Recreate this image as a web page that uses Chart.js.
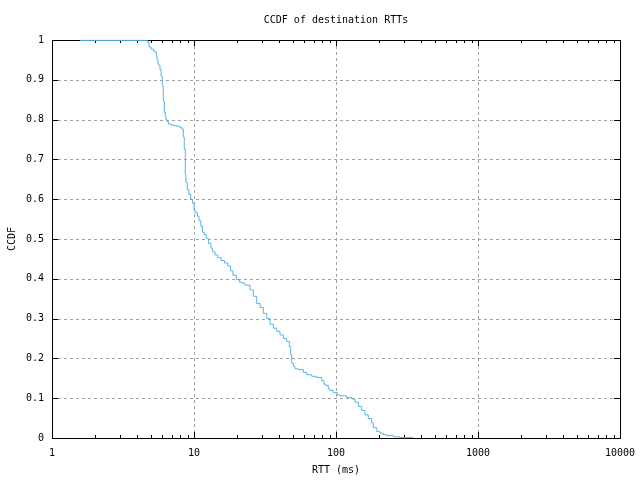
<!DOCTYPE html>
<html>
<head>
<meta charset="utf-8">
<script src="https://cdn.jsdelivr.net/npm/chart.js@4/dist/chart.umd.min.js"></script>
<style>
  html, body { margin: 0; padding: 0; background: #fff; }
  #wrap { width: 640px; height: 480px; }
</style>
</head>
<body>
<div id="wrap"><canvas id="ccdfChart" width="640" height="480"></canvas></div>
<script>
// ---- CCDF of destination RTTs ---- //
const rttMs = [1.575, 4.72, 4.82, 4.98, 5.17, 5.29, 5.43, 5.49, 5.58, 5.64, 5.76, 5.86, 5.98, 6.08,
  6.18, 6.28, 6.35, 6.45, 6.59, 6.85, 7.15, 7.55, 7.97, 8.23, 8.41, 8.54, 8.68, 8.78, 8.97, 9.22,
  9.48, 9.75, 10.0, 10.16, 10.57, 10.84, 11.17, 11.48, 11.80, 12.19, 12.67, 13.18, 13.52, 14.05,
  14.69, 15.49, 16.40, 17.30, 18.07, 18.79, 19.86, 20.98, 22.14, 22.86, 24.79, 26.17, 27.66, 29.17,
  30.78, 32.52, 34.30, 36.17, 38.22, 40.33, 42.55, 44.96, 46.90, 47.98, 48.76, 50.04, 51.44, 54.28,
  58.86, 62.21, 67.44, 73.11, 79.27, 82.25, 85.04, 88.27, 90.73, 95.71, 102.2, 106.7, 118.9, 129.0,
  136.1, 143.6, 151.7, 160.0, 168.8, 178.3, 183.1, 193.6, 204.2, 215.4, 227.5, 253.4, 282.4, 348.7];
const ccdf = [0.999, 0.999, 0.994, 0.983, 0.977, 0.973, 0.970, 0.960, 0.950, 0.940, 0.937, 0.926, 0.909, 0.884,
  0.846, 0.818, 0.808, 0.800, 0.796, 0.789, 0.787, 0.785, 0.783, 0.780, 0.776, 0.756, 0.725, 0.661, 0.642, 0.624,
  0.612, 0.600, 0.590, 0.573, 0.566, 0.557, 0.546, 0.532, 0.517, 0.511, 0.502, 0.489, 0.477, 0.468,
  0.460, 0.453, 0.446, 0.440, 0.432, 0.420, 0.409, 0.398, 0.391, 0.388, 0.384, 0.372, 0.356, 0.338,
  0.328, 0.313, 0.300, 0.286, 0.276, 0.268, 0.259, 0.250, 0.243, 0.230, 0.209, 0.188, 0.180, 0.174,
  0.172, 0.165, 0.159, 0.155, 0.152, 0.144, 0.135, 0.132, 0.123, 0.119, 0.114, 0.108, 0.106, 0.102,
  0.098, 0.090, 0.079, 0.069, 0.058, 0.049, 0.038, 0.026, 0.016, 0.012, 0.008, 0.006, 0.003, 0.001];
const xTicks = [1, 10, 100, 1000, 10000];
const yTicks = [0, 0.1, 0.2, 0.3, 0.4, 0.5, 0.6, 0.7, 0.8, 0.9, 1];

const FONT = "'DejaVu Sans Mono', 'Liberation Mono', monospace";

// --- gnuplot-like frame, dashed grid, inward ticks, titles ---
const framePlugin = {
  id: "frame",
  beforeDatasetsDraw(chart) {
    const { ctx, chartArea: a, scales: { x, y } } = chart;
    ctx.save();
    ctx.strokeStyle = "#a0a0a0";
    ctx.lineWidth = 1;
    ctx.setLineDash([3, 3]);
    xTicks.slice(1, -1).forEach(v => {
      const px = Math.round(x.getPixelForValue(v)) + 0.5;
      ctx.beginPath(); ctx.moveTo(px, a.top); ctx.lineTo(px, a.bottom); ctx.stroke();
    });
    yTicks.slice(1, -1).forEach(v => {
      const py = Math.round(y.getPixelForValue(v)) + 0.5;
      ctx.beginPath(); ctx.moveTo(a.left, py); ctx.lineTo(a.right, py); ctx.stroke();
    });
    ctx.setLineDash([]);

    ctx.strokeStyle = "#000";
    ctx.beginPath();
    // y ticks, left and right
    yTicks.forEach(v => {
      const py = Math.round(y.getPixelForValue(v)) + 0.5;
      ctx.moveTo(a.left, py); ctx.lineTo(a.left + 6, py);
      ctx.moveTo(a.right, py); ctx.lineTo(a.right - 6, py);
    });
    // x ticks, major and minor, bottom and top
    xTicks.forEach((d, i) => {
      const px = Math.round(x.getPixelForValue(d)) + 0.5;
      ctx.moveTo(px, a.bottom); ctx.lineTo(px, a.bottom - 6);
      ctx.moveTo(px, a.top); ctx.lineTo(px, a.top + 6);
      if (i === xTicks.length - 1) return;
      for (let k = 2; k <= 9; k++) {
        const mx = Math.round(x.getPixelForValue(d * k)) + 0.5;
        ctx.moveTo(mx, a.bottom); ctx.lineTo(mx, a.bottom - 3);
        ctx.moveTo(mx, a.top); ctx.lineTo(mx, a.top + 3);
      }
    });
    ctx.stroke();
    ctx.strokeRect(Math.round(a.left) + 0.5, Math.round(a.top) + 0.5,
      Math.round(a.right - a.left), Math.round(a.bottom - a.top));
    ctx.restore();
  },
  afterDatasetsDraw(chart) {
    const { ctx, chartArea: a } = chart;
    ctx.save();
    ctx.fillStyle = "#000";
    ctx.font = "10px " + FONT;
    ctx.textAlign = "center";
    ctx.textBaseline = "middle";
    ctx.fillText("CCDF of destination RTTs", (a.left + a.right) / 2, 20);
    ctx.fillText("RTT (ms)", (a.left + a.right) / 2, 470);
    ctx.translate(12, (a.top + a.bottom) / 2);
    ctx.rotate(-Math.PI / 2);
    ctx.fillText("CCDF", 0, 0);
    ctx.restore();
  }
};

new Chart(document.getElementById("ccdfChart"), {
  type: "line",
  data: {
    datasets: [{
      data: rttMs.map((v, i) => ({ x: v, y: ccdf[i] })),
      borderColor: "#56b4e9",
      borderWidth: 1,
      pointRadius: 0,
      stepped: "after",
      fill: false,
      clip: 2
    }]
  },
  options: {
    responsive: false,
    animation: false,
    layout: { padding: { top: 40, right: 20, left: 0, bottom: 0 } },
    plugins: { legend: { display: false }, tooltip: { enabled: false } },
    scales: {
      x: {
        type: "logarithmic",
        min: 1, max: 10000,
        grid: { display: false, drawTicks: false },
        border: { display: false },
        afterBuildTicks: s => { s.ticks = xTicks.map(v => ({ value: v })); },
        afterFit: s => { s.height = 42; s.paddingLeft = 0; s.paddingRight = 0; },
        ticks: {
          autoSkip: false, maxRotation: 0, padding: 9,
          color: "#000", font: { family: FONT, size: 10 },
          callback: v => String(v)
        }
      },
      y: {
        min: 0, max: 1,
        grid: { display: false, drawTicks: false },
        border: { display: false },
        afterBuildTicks: s => { s.ticks = yTicks.map(v => ({ value: v })); },
        afterFit: s => { s.width = 52; s.paddingTop = 0; s.paddingBottom = 0; },
        ticks: {
          padding: 8,
          color: "#000", font: { family: FONT, size: 10 },
          callback: v => String(Number(v.toFixed(1)))
        }
      }
    }
  },
  plugins: [framePlugin]
});
</script>
</body>
</html>
